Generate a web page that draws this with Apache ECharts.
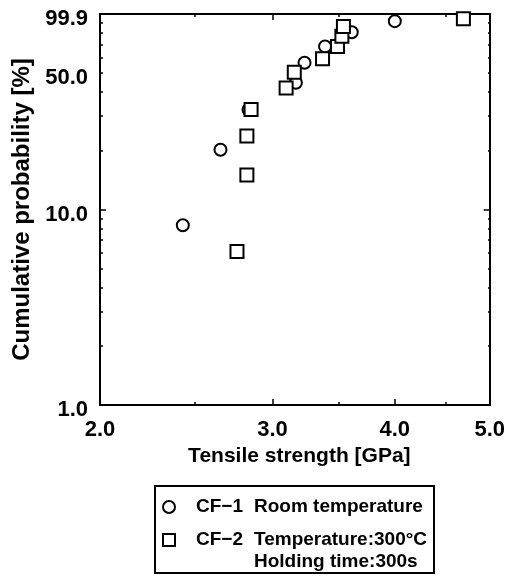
<!DOCTYPE html>
<html>
<head>
<meta charset="utf-8">
<script src="https://cdn.jsdelivr.net/npm/echarts@6/dist/echarts.min.js"></script>
<style>html,body{margin:0;padding:0;background:#fff}#c{width:508px;height:576px}</style>
</head>
<body>
<div id="c"></div>
<script>
// ---- data ----
const seriesNames = ['CF−1', 'CF−2'];
const legendDesc = [['Room temperature'], ['Temperature:300°C', 'Holding time:300s']];
const cf1Strength = [2.43, 2.655, 2.836, 3.17, 3.235, 3.395, 3.615, 4.00];
const cf1Prob     = [8.3, 20.2, 32.4, 44.5, 56.3, 68.2, 80.7, 91.9];
const cf2Strength = [2.76, 2.825, 2.825, 2.853, 3.098, 3.158, 3.375, 3.496, 3.532, 3.545, 4.70];
const cf2Prob     = [6.1, 15.0, 23.8, 32.5, 41.8, 50.4, 59.0, 68.2, 77.0, 86.3, 94.5];
const xTickValues = [2, 3, 4, 5];
const xTickLabels = ['2.0', '3.0', '4.0', '5.0'];
const xMajorTicks = [3, 4];
const xMinorTicks = [2.5, 3.5, 4.5];
const yTickValues = [1, 10, 50, 99.9];
const yTickLabels = ['1.0', '10.0', '50.0', '99.9'];
const yMajorTicks = [10];
const yMinorTicks = [2, 3, 4, 5, 6, 7, 8, 9, 20, 30, 40, 50, 60, 70, 80, 90];
const xTitle = 'Tensile strength [GPa]';
const yTitle = 'Cumulative probability [%]';

// ---- chart ----
const FONT = '"Liberation Sans", Arial, sans-serif';
function lookup(vals, labels) {
  return function (v) {
    for (let i = 0; i < vals.length; i++) {
      if (Math.abs(v - vals[i]) < 1e-6 * Math.max(1, vals[i])) return labels[i];
    }
    return '';
  };
}
const gridBox = { left: 100, right: 17, top: 14, bottom: 171 };
const lineStyle = { color: '#000', width: 2 };
const tickStyle = { color: '#000', width: 1.5 };
function xAx(gridIndex, position, ticks, len, opts) {
  return Object.assign({
    type: 'log', logBase: 10, min: 2, max: 5, gridIndex: gridIndex, position: position,
    axisLine: { show: gridIndex === 0, lineStyle: lineStyle },
    axisTick: { show: true, inside: true, length: len, customValues: ticks, lineStyle: tickStyle },
    axisLabel: { show: false },
    splitLine: { show: false }, minorTick: { show: false }
  }, opts || {});
}
function yAx(gridIndex, position, ticks, len, opts) {
  return Object.assign({
    type: 'log', logBase: 10, min: 1, max: 100, gridIndex: gridIndex, position: position,
    axisLine: { show: gridIndex === 0, lineStyle: lineStyle },
    axisTick: { show: true, inside: true, length: len, customValues: ticks, lineStyle: tickStyle },
    axisLabel: { show: false },
    splitLine: { show: false }, minorTick: { show: false }
  }, opts || {});
}
const labelFont = { fontFamily: FONT, fontWeight: 'bold', fontSize: 22, color: '#000' };

function legendText(idx) {
  const lines = legendDesc[idx];
  let s = '{a|' + seriesNames[idx] + '}{b|' + lines[0] + '}';
  for (let i = 1; i < lines.length; i++) s += '\n{a| }{b|' + lines[i] + '}';
  return s;
}
const richTok = { fontFamily: FONT, fontWeight: 'bold', fontSize: 19, lineHeight: 22, color: '#000' };
function legendCfg(idx, top, padTop, icon) {
  return {
    data: [{ name: seriesNames[idx], icon: icon }],
    orient: 'vertical', left: 162, top: top, padding: 0,
    itemWidth: 12, itemHeight: 12, selectedMode: false,
    itemStyle: { color: '#fff', borderColor: '#000', borderWidth: 2 },
    formatter: function () { return legendText(idx); },
    textStyle: {
      fontFamily: FONT, fontWeight: 'bold', fontSize: 19, lineHeight: 22, color: '#000',
      padding: [padTop, 0, 0, 16],
      rich: { a: Object.assign({ width: 58 }, richTok), b: Object.assign({}, richTok) }
    }
  };
}

const chart = echarts.init(document.getElementById('c'), null, { renderer: 'canvas' });
chart.setOption({
  animation: false,
  backgroundColor: '#fff',
  grid: [Object.assign({}, gridBox), Object.assign({}, gridBox)],
  xAxis: [
    xAx(0, 'bottom', xMajorTicks, 6, {
      name: xTitle, nameLocation: 'middle', nameGap: 36,
      nameTextStyle: { fontFamily: FONT, fontWeight: 'bold', fontSize: 21, color: '#000', padding: [0, 0, 0, 9] },
      axisLabel: Object.assign({ show: true, margin: 14, customValues: xTickValues, formatter: lookup(xTickValues, xTickLabels) }, labelFont)
    }),
    xAx(0, 'top', xMajorTicks, 6),
    xAx(1, 'bottom', xMinorTicks, 3),
    xAx(1, 'top', xMinorTicks, 3)
  ],
  yAxis: [
    yAx(0, 'left', yMajorTicks, 6, {
      name: yTitle, nameLocation: 'middle', nameGap: 66,
      nameTextStyle: { fontFamily: FONT, fontWeight: 'bold', fontSize: 24, color: '#000' },
      axisLabel: Object.assign({ show: true, margin: 12, verticalAlign: 'top', lineHeight: 10, customValues: yTickValues, formatter: lookup(yTickValues, yTickLabels) }, labelFont)
    }),
    yAx(0, 'right', yMajorTicks, 6),
    yAx(1, 'left', yMinorTicks, 3),
    yAx(1, 'right', yMinorTicks, 3)
  ],
  legend: [legendCfg(0, 496, 0, 'circle'), legendCfg(1, 507, 22, 'rect')],
  graphic: [{
    type: 'rect', shape: { x: 155, y: 486, width: 279, height: 87 },
    style: { fill: 'none', stroke: '#000', lineWidth: 2 }, silent: true
  }],
  series: [
    {
      name: seriesNames[0], type: 'scatter', xAxisIndex: 0, yAxisIndex: 0,
      symbol: 'circle', symbolSize: 12,
      itemStyle: { color: '#fff', borderColor: '#000', borderWidth: 2, opacity: 1 },
      data: cf1Strength.map((v, i) => [v, cf1Prob[i]]), z: 3
    },
    {
      name: seriesNames[1], type: 'scatter', xAxisIndex: 0, yAxisIndex: 0,
      symbol: 'rect', symbolSize: 13,
      itemStyle: { color: '#fff', borderColor: '#000', borderWidth: 2, opacity: 1 },
      data: cf2Strength.map((v, i) => [v, cf2Prob[i]]), z: 4
    }
  ]
});
</script>
</body>
</html>
